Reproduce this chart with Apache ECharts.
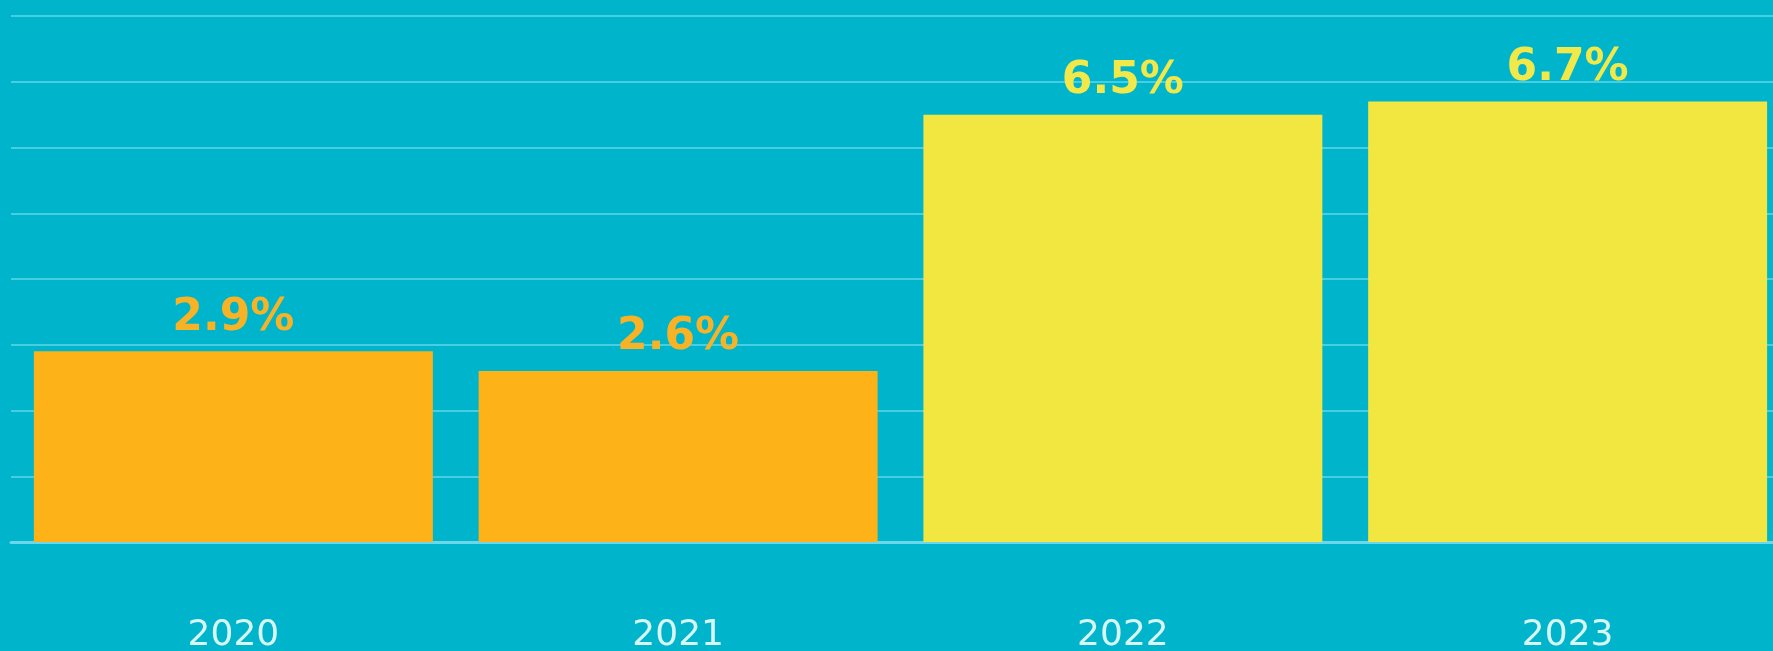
<!DOCTYPE html>
<html>
<head>
    <meta charset="utf-8">
    <title>Growth by year</title>
    <script src="https://cdn.jsdelivr.net/npm/echarts@6/dist/echarts.min.js"></script>
    <style>
        html, body { margin: 0; padding: 0; background: #00b5cb; }
    </style>
</head>
<body>
    <div id='main' style='width:1773px;height:651px;'></div>
    <script>
        // data
        var years = ['2020', '2021', '2022', '2023'];
        var growth = [2.9, 2.6, 6.5, 6.7];

        // colours: two orange bars, then two yellow ones
        var barColors = ['#fdb217', '#fdb217', '#f2e641', '#f2e641'];
        var labelColors = ['#f7b325', '#f7b325', '#f1e84a', '#f1e84a'];

        var myChart = echarts.init(document.getElementById('main'));

        myChart.setOption({
            animation: false,
            backgroundColor: '#00b5cb',
            // last band runs a little past the right edge, as in the picture
            grid: { left: 11, width: 1779, top: 16, bottom: 109, outerBoundsMode: 'none' },
            xAxis: {
                type: 'category',
                data: years,
                axisTick: { show: false },
                axisLine: { lineStyle: { color: '#6ad7ea', width: 3 } },
                axisLabel: {
                    margin: 76,
                    color: '#d8f7f4',
                    fontFamily: 'DejaVu Sans',
                    fontSize: 36
                }
            },
            yAxis: {
                type: 'value',
                min: 0,
                max: 8,
                interval: 1,
                axisLabel: { show: false },
                axisLine: { show: false },
                axisTick: { show: false },
                splitLine: { lineStyle: { color: '#48cee2', width: 2 } }
            },
            series: [{
                type: 'bar',
                barCategoryGap: '10.3%',
                data: growth.map(function (v, i) {
                    return {
                        value: v,
                        itemStyle: { color: barColors[i] },
                        label: { color: labelColors[i] }
                    };
                }),
                label: {
                    show: true,
                    position: 'top',
                    distance: 11,
                    fontFamily: 'DejaVu Sans',
                    fontWeight: 'bold',
                    fontSize: 44,
                    formatter: function (p) { return p.value.toFixed(1) + '%'; }
                }
            }]
        });
    </script>
</body>
</html>
